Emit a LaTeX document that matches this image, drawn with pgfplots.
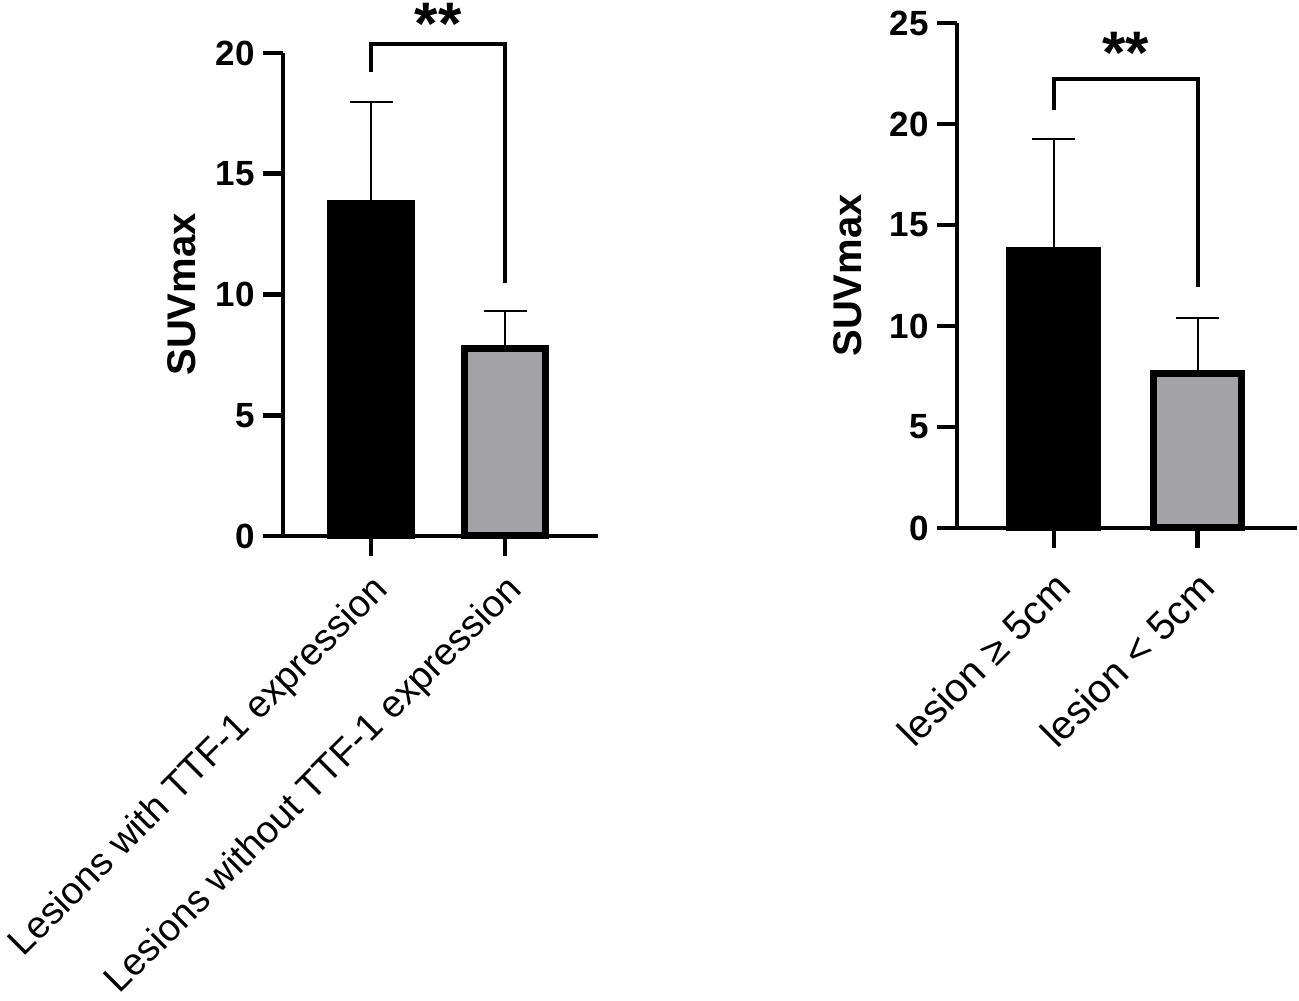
\documentclass[border=0pt]{standalone}
\usepackage{pgfplots}
\pgfplotsset{compat=1.18}
\usepackage{fontspec}
\setmainfont{Liberation Sans}
\definecolor{bargray}{RGB}{162,162,167}
\begin{document}
\begin{tikzpicture}
\useasboundingbox (0pt,0pt) rectangle (649.5pt,500pt);
\pgfplotsset{
 mystyle/.style={
  scale only axis,
  anchor=south west,
  axis x line=bottom, axis y line=left,
  axis line style={-, line width=2.3pt},
  tick style={line width=2.3pt, black},
  major tick length=10pt,
  tick align=outside,
  xtick={0,1},
  ymin=0,
  clip=false,
  /pgf/number format/assume math mode=true,
  yticklabel style={font=\bfseries\fontsize{17.5}{20}\selectfont, inner sep=0pt, anchor=east, xshift=-4pt},
  xticklabel style={rotate=45, anchor=north east, inner sep=0pt},
  every axis y label/.style={at={(axis description cs:-0.32,0.5)}, rotate=90, anchor=center, font=\bfseries\fontsize{20}{24}\selectfont},
  ylabel={SUVmax},
 }
}
% left panel
\begin{axis}[mystyle,
  at={(141.5pt,232pt)}, width=157.5pt, height=241.5pt,
  xmin=-0.657, xmax=1.694, ymax=20, ytick={0,5,10,15,20},
  xticklabels={Lesions with TTF-1 expression, Lesions without TTF-1 expression},
  xticklabel style={font=\fontsize{19}{22}\selectfont, xshift=-6pt, yshift=-5pt},
]
\addplot[ybar, bar width=40.5pt, fill=black, draw=black, line width=3.5pt,
  error bars/.cd, y dir=plus, y explicit,
  error bar style={line width=1.2pt, black},
  error mark options={rotate=90, mark size=10.75pt, line width=1.2pt, black}]
  coordinates {(0,13.75) +- (0,4.22)};
\addplot[ybar, bar width=40.5pt, fill=bargray, draw=black, line width=3.5pt,
  error bars/.cd, y dir=plus, y explicit,
  error bar style={line width=1.2pt, black},
  error mark options={rotate=90, mark size=10.75pt, line width=1.2pt, black}]
  coordinates {(1,7.78) +- (0,1.53)};
\addplot[black, line width=2pt, mark=none, line join=miter, forget plot]
  coordinates {(0,19.2) (0,20.38) (1,20.38) (1,10.46)};
\node[font=\bfseries\fontsize{30}{36}\selectfont] at (axis cs:0.5,21.2) {**};
\end{axis}
% right panel
\begin{axis}[mystyle,
  at={(478.5pt,236pt)}, width=170pt, height=252.5pt,
  xmin=-0.674, xmax=1.69, ymax=25, ytick={0,5,10,15,20,25},
  xticklabels={lesion ≥ 5cm, lesion < 5cm},
  xticklabel style={font=\fontsize{20}{23}\selectfont, xshift=-8pt, yshift=-7pt},
]
\addplot[ybar, bar width=44pt, fill=black, draw=black, line width=3.5pt,
  error bars/.cd, y dir=plus, y explicit,
  error bar style={line width=1.2pt, black},
  error mark options={rotate=90, mark size=10.75pt, line width=1.2pt, black}]
  coordinates {(0,13.75) +- (0,5.52)};
\addplot[ybar, bar width=44pt, fill=bargray, draw=black, line width=3.5pt,
  error bars/.cd, y dir=plus, y explicit,
  error bar style={line width=1.2pt, black},
  error mark options={rotate=90, mark size=10.75pt, line width=1.2pt, black}]
  coordinates {(1,7.67) +- (0,2.73)};
\addplot[black, line width=2pt, mark=none, line join=miter, forget plot]
  coordinates {(0,20.7) (0,22.25) (1,22.25) (1,11.94)};
\node[font=\bfseries\fontsize{30}{36}\selectfont] at (axis cs:0.5,23.5) {**};
\end{axis}
\end{tikzpicture}
\end{document}
